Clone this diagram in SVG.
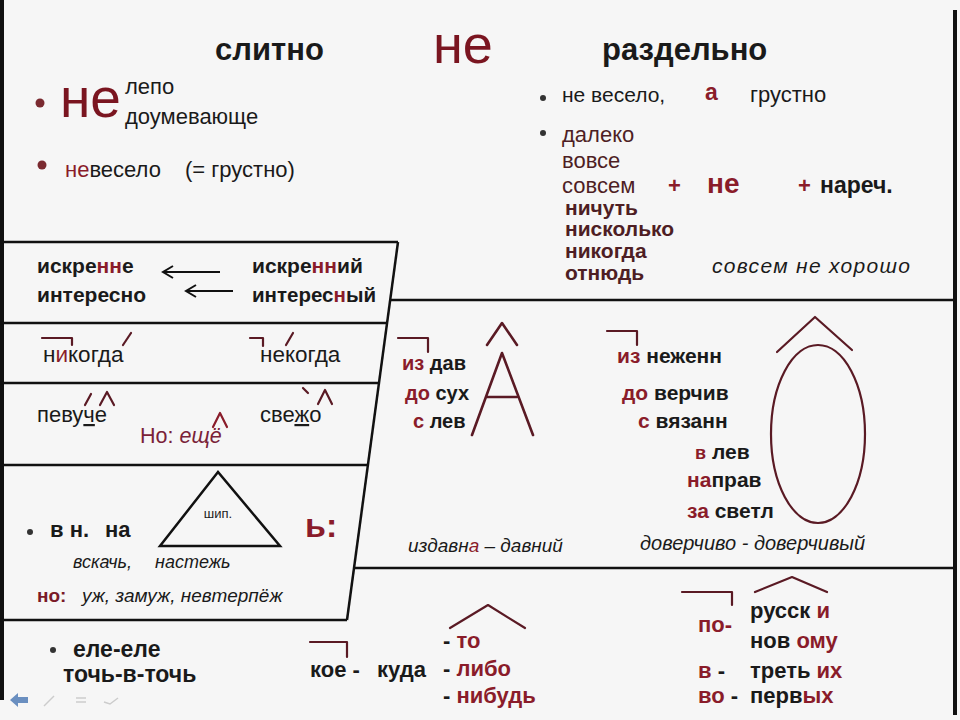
<svg xmlns="http://www.w3.org/2000/svg" width="960" height="720" viewBox="0 0 960 720">
<style>
text{font-family:"Liberation Sans",Arial,sans-serif;fill:#1a1a1a}
.b{font-weight:bold}
.i{font-style:italic}
.r{fill:#8a1c2a}
.m{fill:#4e1e24}
.ln{stroke:#111;stroke-width:2.5;fill:none}
.mk{stroke:#5a1a24;stroke-width:2.2;fill:none;stroke-linecap:round;stroke-linejoin:round}
.u{text-decoration:underline}
</style>
<defs>
<marker id="ah" markerWidth="14" markerHeight="14" refX="11" refY="7" orient="auto" markerUnits="userSpaceOnUse">
<polyline points="1,1 11,7 1,13" fill="none" stroke="#111" stroke-width="2"/>
</marker>
</defs>
<rect x="0" y="0" width="960" height="720" fill="#f6f6f6"/>
<g id="frame">
<rect x="0" y="0" width="4" height="700" fill="#111"/>
<rect x="953" y="10" width="4" height="705" fill="#111"/>
</g>
<g id="connectors">
<line class="ln" x1="0" y1="242" x2="398" y2="242"/>
<line class="ln" x1="398" y1="242" x2="347" y2="620"/>
<line class="ln" x1="390" y1="300" x2="955" y2="300"/>
<line class="ln" x1="0" y1="323" x2="388" y2="323"/>
<line class="ln" x1="0" y1="383" x2="380" y2="383"/>
<line class="ln" x1="0" y1="465" x2="369" y2="465"/>
<line class="ln" x1="355" y1="568" x2="955" y2="568"/>
<line class="ln" x1="0" y1="620" x2="347" y2="620"/>
<line x1="220" y1="272" x2="163" y2="272" stroke="#111" stroke-width="2" marker-end="url(#ah)"/>
<line x1="233" y1="291" x2="186" y2="291" stroke="#111" stroke-width="2" marker-end="url(#ah)"/>
</g>
<g id="header">
<text x="215" y="60" class="b" font-size="31">слитно</text>
<text x="433" y="63" font-size="54" style="fill:#7a1520">не</text>
<text x="602" y="60" class="b" font-size="31">раздельно</text>
</g>
<g id="slitno">
<circle cx="40" cy="103" r="4.5" fill="#7a2a30"/>
<text x="60" y="117" font-size="55" style="fill:#7a1520">не</text>
<text x="125" y="94" font-size="22">лепо</text>
<text x="125" y="124" font-size="22">доумевающе</text>
<circle cx="42" cy="165" r="4.5" fill="#7a2a30"/>
<text x="65" y="177" font-size="22"><tspan class="r">не</tspan>весело</text>
<text x="185" y="177" font-size="22">(= грустно)</text>
</g>
<g id="razdelno">
<circle cx="543" cy="98" r="3" fill="#333"/>
<text x="562" y="102" font-size="21">не весело,</text>
<text x="705" y="100" class="b r" font-size="23">а</text>
<text x="750" y="102" font-size="22">грустно</text>
<circle cx="543" cy="133" r="3" fill="#333"/>
<text x="562" y="142" class="m" font-size="22">далеко</text>
<text x="562" y="168" class="m" font-size="22">вовсе</text>
<text x="562" y="193" class="m" font-size="22">совсем</text>
<text x="565" y="215" class="m b" font-size="21">ничуть</text>
<text x="565" y="236" class="m b" font-size="21">нисколько</text>
<text x="565" y="258" class="m b" font-size="21">никогда</text>
<text x="565" y="280" class="m b" font-size="21">отнюдь</text>
<text x="668" y="193" class="b r" font-size="22">+</text>
<text x="707" y="193" class="b r" font-size="28">не</text>
<text x="798" y="193" class="b r" font-size="22">+</text>
<text x="820" y="193" class="b" font-size="23">нареч.</text>
<text x="712" y="273" class="i" font-size="21" textLength="198">совсем  не хорошо</text>
</g>
<g id="row1">
<text x="37" y="273" class="b" font-size="21">искре<tspan class="r">нн</tspan>е</text>
<text x="37" y="302" class="b" font-size="21">интересно</text>
<text x="252" y="273" class="b" font-size="21">искре<tspan class="r">нн</tspan>ий</text>
<text x="252" y="302" class="b" font-size="20.5">интерес<tspan class="r">н</tspan>ый</text>
</g>
<g id="row2">
<polyline class="mk" points="42,338 72,338 72,345"/>
<line class="mk" x1="123" y1="345" x2="131" y2="333"/>
<text x="43" y="362" font-size="22.5">н<tspan class="r">и</tspan>когда</text>
<polyline class="mk" points="250,338 263,338 263,346"/>
<line class="mk" x1="286" y1="345" x2="293" y2="333"/>
<text x="260" y="362" font-size="22.5">некогда</text>
</g>
<g id="row3">
<line class="mk" x1="85" y1="405" x2="91" y2="394"/>
<polyline class="mk" points="100,405 107,392 114,405"/>
<text x="37" y="422" font-size="22">певу<tspan class="u">ч</tspan>е</text>
<line class="mk" x1="303" y1="388" x2="308" y2="393"/>
<polyline class="mk" points="318,404 325,390 332,404"/>
<text x="260" y="422" font-size="22">све<tspan class="u">ж</tspan>о</text>
<polyline class="mk" points="213,427 220,413 227,427" style="stroke:#8a1c2a"/>
<text x="140" y="443" font-size="21.5" style="fill:#7a2238">Но: <tspan class="i">ещё</tspan></text>
</g>
<g id="row4">
<polygon points="218,472 160,546 280,546" class="ln"/>
<text x="218" y="518" font-size="13" text-anchor="middle">шип.</text>
<circle cx="30" cy="532" r="3" fill="#333"/>
<text x="50" y="537" class="b" font-size="22">в н.</text>
<text x="105" y="537" class="b" font-size="22">на</text>
<text x="305" y="537" class="b r" font-size="34">ь:</text>
<text x="73" y="568" class="i" font-size="18">вскачь,</text>
<text x="155" y="568" class="i" font-size="18">настежь</text>
<text x="37" y="602" class="b" font-size="19" style="fill:#7a1a28">но:</text>
<text x="82" y="602" class="i" font-size="19">уж, замуж, невтерпёж</text>
</g>
<g id="bottom-left">
<circle cx="53" cy="650" r="3" fill="#333"/>
<text x="73" y="657" class="b" font-size="23">еле-еле</text>
<text x="63" y="682" class="b" font-size="23">точь-в-точь</text>
</g>
<g id="mid-left">
<polyline class="mk" points="398,338 428,338 428,352"/>
<text x="402" y="370" class="b" font-size="20"><tspan class="r">из</tspan> дав</text>
<text x="405" y="400" class="b" font-size="20"><tspan class="r">до</tspan> сух</text>
<text x="413" y="428" class="b" font-size="20"><tspan class="r">с</tspan> лев</text>
<g class="mk" style="stroke-width:2.6">
<polyline points="472,435 502,353 533,435"/>
<line x1="487" y1="397" x2="517" y2="397"/>
<polyline points="487,345 502,323 517,345"/>
</g>
<text x="408" y="552" class="i" font-size="19">издавн<tspan class="r">а</tspan> – давний</text>
</g>
<g id="mid-right">
<polyline class="mk" points="607,331 637,331 637,345"/>
<text x="617" y="363" class="b" font-size="21"><tspan class="r">из</tspan> неженн</text>
<text x="622" y="400" class="b" font-size="21"><tspan class="r">до</tspan> верчив</text>
<text x="638" y="428" class="b" font-size="21"><tspan class="r">с</tspan> вязанн</text>
<text x="695" y="459" class="b" font-size="21"><tspan class="r" font-size="18">в</tspan> лев</text>
<text x="687" y="487" class="b" font-size="21"><tspan class="r">на</tspan>прав</text>
<text x="687" y="518" class="b" font-size="21"><tspan class="r">за</tspan> светл</text>
<ellipse cx="818" cy="434" rx="47" ry="89" class="mk"/>
<polyline class="mk" points="777,352 815,317 852,350"/>
<text x="640" y="550" class="i" font-size="20">доверчиво - доверчивый</text>
</g>
<g id="bottom-mid">
<polyline class="mk" points="310,642 347,642 347,657"/>
<text x="310" y="677" class="b" font-size="22">кое -</text>
<text x="377" y="677" class="b" font-size="22">куда</text>
<polyline class="mk" points="450,628 488,605 525,628"/>
<text x="443" y="648" class="b" font-size="22">- <tspan class="r">то</tspan></text>
<text x="443" y="676" class="b" font-size="22">- <tspan class="r">либо</tspan></text>
<text x="443" y="703" class="b" font-size="22">- <tspan class="r">нибудь</tspan></text>
</g>
<g id="bottom-right">
<polyline class="mk" points="682,592 732,592 732,605"/>
<polyline class="mk" points="755,592 792,577 827,592"/>
<text x="698" y="632" class="b r" font-size="22">по-</text>
<text x="750" y="618" class="b" font-size="22">русск <tspan class="r">и</tspan></text>
<text x="750" y="648" class="b" font-size="22">нов <tspan class="r">ому</tspan></text>
<text x="698" y="678" class="b" font-size="22"><tspan class="r">в</tspan> -</text>
<text x="750" y="678" class="b" font-size="22">треть <tspan class="r">их</tspan></text>
<text x="698" y="703" class="b" font-size="22"><tspan class="r">во</tspan> -</text>
<text x="750" y="703" class="b" font-size="22">перв<tspan class="r">ых</tspan></text>
</g>
<g id="toolbar">
<polygon points="10,700 18,693 18,697 28,697 28,703 18,703 18,707" fill="#6a8fc0"/>
<line x1="44" y1="706" x2="54" y2="696" stroke="#ccc" stroke-width="1.5"/>
<line x1="76" y1="698" x2="86" y2="698" stroke="#ccc" stroke-width="1.5"/>
<line x1="76" y1="702" x2="86" y2="702" stroke="#ccc" stroke-width="1.5"/>
<polyline points="104,702 110,704 118,698" fill="none" stroke="#ccc" stroke-width="1.5"/>
</g>
</svg>
